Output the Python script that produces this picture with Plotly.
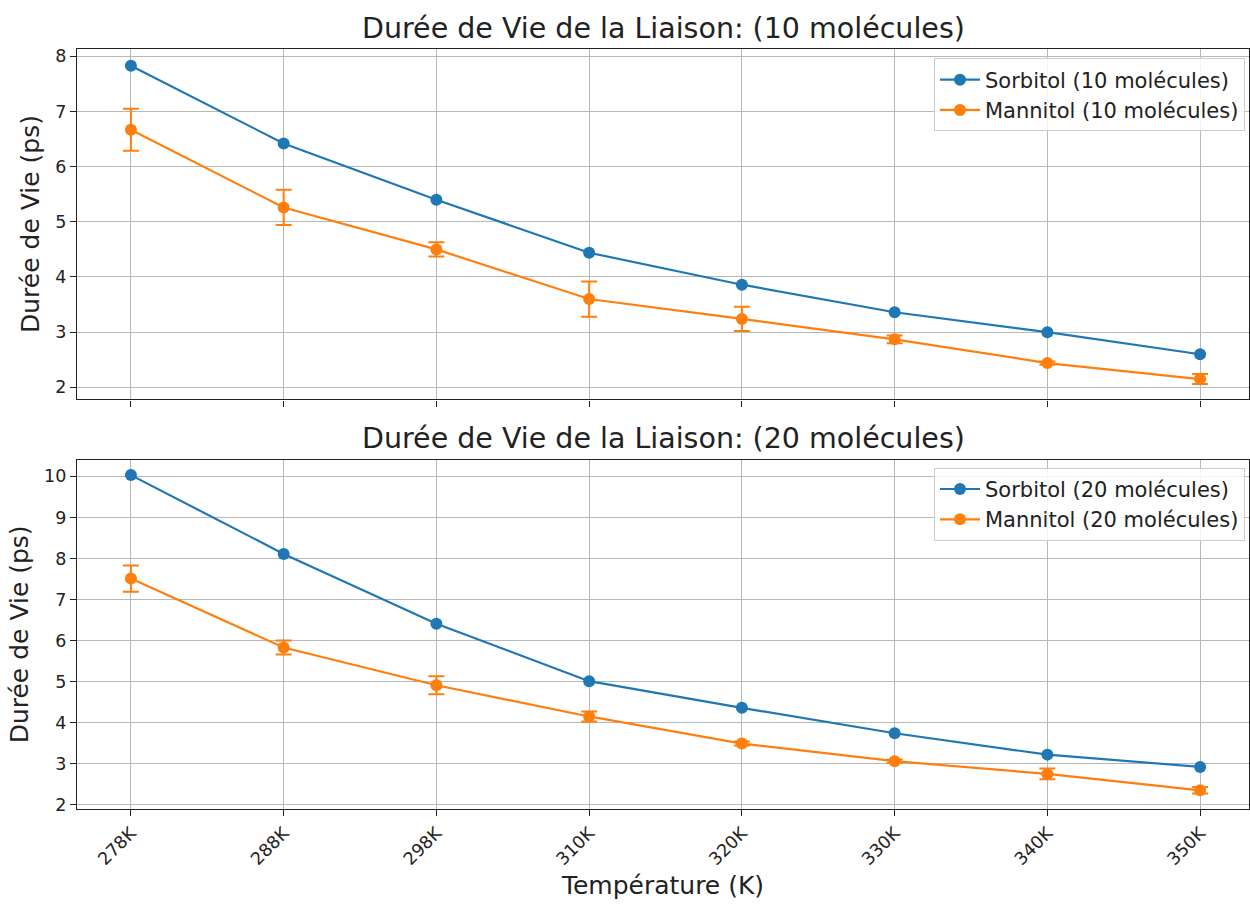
import plotly.graph_objects as go
from plotly.subplots import make_subplots

temperatures = ["278K", "288K", "298K", "310K", "320K", "330K", "340K", "350K"]

sorbitol_10 = [7.83, 6.42, 5.40, 4.44, 3.86, 3.36, 3.00, 2.60]
sorbitol_10_err = [0, 0, 0, 0, 0, 0, 0, 0]
mannitol_10 = [6.67, 5.26, 4.50, 3.60, 3.24, 2.87, 2.44, 2.15]
mannitol_10_err = [0.38, 0.32, 0.13, 0.32, 0.22, 0.07, 0.03, 0.09]

sorbitol_20 = [10.03, 8.11, 6.41, 5.01, 4.36, 3.74, 3.22, 2.92]
sorbitol_20_err = [0, 0, 0, 0, 0, 0, 0, 0]
mannitol_20 = [7.51, 5.83, 4.91, 4.15, 3.49, 3.06, 2.75, 2.35]
mannitol_20_err = [0.32, 0.17, 0.22, 0.12, 0.05, 0.04, 0.13, 0.08]

titles = ["Durée de Vie de la Liaison: (10 molécules)", "Durée de Vie de la Liaison: (20 molécules)"]

BLUE = "#1f77b4"
ORANGE = "#ff7f0e"
FONT = "DejaVu Sans"

fig = make_subplots(rows=2, cols=1, shared_xaxes=True)


def add_series(y, err, name, color, row, legend):
    show_err = any(e > 0 for e in err)
    fig.add_trace(
        go.Scatter(
            x=temperatures, y=y, name=name, mode="lines+markers",
            line=dict(color=color, width=2.2),
            marker=dict(color=color, size=12),
            error_y=dict(type="data", array=err, visible=show_err, color=color, thickness=2, width=8),
            legend=legend, legendgroup=name,
        ),
        row=row, col=1,
    )


add_series(sorbitol_10, sorbitol_10_err, "Sorbitol (10 molécules)", BLUE, 1, "legend")
add_series(mannitol_10, mannitol_10_err, "Mannitol (10 molécules)", ORANGE, 1, "legend")
add_series(sorbitol_20, sorbitol_20_err, "Sorbitol (20 molécules)", BLUE, 2, "legend2")
add_series(mannitol_20, mannitol_20_err, "Mannitol (20 molécules)", ORANGE, 2, "legend2")

H = 905.0
W = 1250.0

axis_common = dict(
    showline=True, mirror=True, linecolor="#222222", linewidth=1.3,
    showgrid=True, gridcolor="#b8b8b8", gridwidth=1.4,
    ticks="outside", ticklen=6, tickwidth=1.3, tickcolor="#222222",
    tickfont=dict(family=FONT, size=17.5, color="#222222"),
    zeroline=False,
)

fig.update_xaxes(**axis_common)
fig.update_yaxes(**axis_common)

fig.update_xaxes(type="category", range=[-0.353, 7.32], domain=[77 / W, 1249 / W])
fig.update_xaxes(showticklabels=False, row=1, col=1)
fig.update_xaxes(
    tickangle=-45, row=2, col=1,
    title=dict(text="Température (K)", font=dict(family=FONT, size=25, color="#222222"), standoff=8),
)

ytitle = dict(text="Durée de Vie (ps)", font=dict(family=FONT, size=25, color="#222222"), standoff=8)
fig.update_yaxes(range=[1.78, 8.14], dtick=1, domain=[1 - 401 / H, 1 - 47 / H], title=ytitle, row=1, col=1)
fig.update_yaxes(range=[1.90, 10.40], dtick=1, domain=[1 - 814 / H, 1 - 462 / H], title=ytitle, row=2, col=1)

legend_style = dict(
    xanchor="right", yanchor="top", x=1245 / W,
    bgcolor="rgba(255,255,255,0.85)", bordercolor="#cccccc", borderwidth=1,
    font=dict(family=FONT, size=21, color="#222222"),
    traceorder="grouped", tracegroupgap=0, itemwidth=40,
)
fig.update_layout(
    legend=dict(y=1 - 57 / H, **legend_style),
    legend2=dict(y=1 - 470 / H, **legend_style),
)

for i, t in enumerate(titles):
    yc = [27, 440][i]
    fig.add_annotation(
        text=t, xref="paper", yref="paper", x=(77 + 1249) / 2 / W, y=1 - yc / H,
        xanchor="center", yanchor="middle", showarrow=False,
        font=dict(family=FONT, size=28.5, color="#222222"),
    )

fig.update_layout(
    width=1250, height=905,
    margin=dict(l=0, r=0, t=0, b=0),
    paper_bgcolor="white", plot_bgcolor="white",
    font=dict(family=FONT, color="#222222"),
    showlegend=True,
)

fig.write_html("out.html")
